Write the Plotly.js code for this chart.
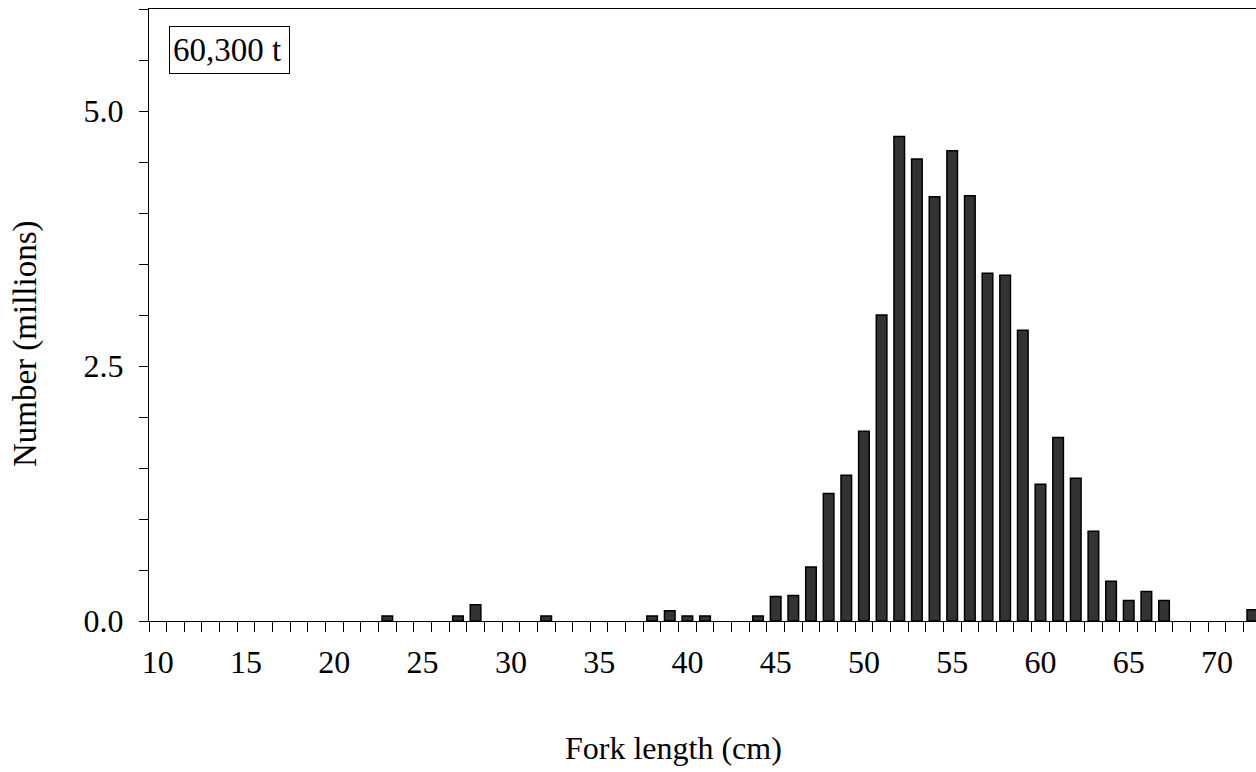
<!DOCTYPE html>
<html>
<head>
<meta charset="utf-8">
<script src="https://cdn.plot.ly/plotly-3.0.1.min.js"></script>
<style>
  html, body { margin: 0; padding: 0; background: #ffffff; }
  #chart { width: 1256px; height: 772px; }
</style>
</head>
<body>
<div id="chart"></div>
<script>
// Fork length classes (cm, lower bound of each 1-cm bin) with a non-zero catch
const lengthsCm = [23, 27, 28, 32, 38, 39, 40, 41, 44, 45, 46, 47, 48, 49, 50,
                   51, 52, 53, 54, 55, 56, 57, 58, 59, 60, 61, 62, 63, 64, 65,
                   66, 67, 72];
// Number of fish caught in each length class (millions)
const numberMillions = [0.05, 0.05, 0.16, 0.05, 0.05, 0.10, 0.05, 0.05, 0.05, 0.24,
                        0.25, 0.53, 1.25, 1.43, 1.86, 3.00, 4.75, 4.53, 4.16, 4.61,
                        4.17, 3.41, 3.39, 2.85, 1.34, 1.80, 1.40, 0.88, 0.39, 0.20,
                        0.29, 0.20, 0.11];

// Axis labels
const xLabelVals = [10, 15, 20, 25, 30, 35, 40, 45, 50, 55, 60, 65, 70];
const yLabelVals = [0, 2.5, 5];
const catchLabel = '60,300 t';

const FONT = 'Liberation Serif, Times New Roman, serif';

// Labels sit in the middle of each 1-cm bin; tick marks sit on bin edges.
const xTickPos = xLabelVals.map(v => v + 0.5);
const xTickText = xLabelVals.map(v => String(v));
const yTickText = yLabelVals.map(v => v.toFixed(1));

const trace = {
  type: 'bar',
  x: lengthsCm,
  y: numberMillions,
  width: 0.6,
  offset: 0.2,
  marker: {
    color: '#333333',
    line: { color: '#000000', width: 1.5 }
  },
  hoverinfo: 'x+y'
};

const layout = {
  width: 1256,
  height: 772,
  margin: { l: 149, r: 0, t: 9, b: 151 },
  paper_bgcolor: '#ffffff',
  plot_bgcolor: '#ffffff',
  showlegend: false,
  font: { family: FONT, size: 32, color: '#000000' },
  xaxis: {
    range: [10, 72.71],
    tickmode: 'array',
    tickvals: xTickPos,
    ticktext: xTickText,
    ticks: 'outside',
    ticklen: 10,
    tickcolor: 'rgba(0,0,0,0)',
    ticklabelstandoff: 3,
    minor: {
      tickmode: 'linear',
      tick0: 10,
      dtick: 1,
      ticks: 'outside',
      ticklen: 10,
      tickwidth: 1,
      tickcolor: '#000000'
    },
    showline: true,
    linecolor: '#000000',
    linewidth: 1,
    mirror: true,
    showgrid: false,
    zeroline: false,
    tickfont: { family: FONT, size: 32, color: '#000000' }
  },
  yaxis: {
    range: [0, 6],
    tickmode: 'array',
    tickvals: yLabelVals,
    ticktext: yTickText,
    ticks: 'outside',
    ticklen: 9,
    tickwidth: 1,
    tickcolor: '#000000',
    ticklabelstandoff: 9,
    minor: {
      tickmode: 'linear',
      tick0: 0,
      dtick: 0.5,
      ticks: 'outside',
      ticklen: 9,
      tickwidth: 1,
      tickcolor: '#000000'
    },
    showline: true,
    linecolor: '#000000',
    linewidth: 1,
    showgrid: false,
    zeroline: false,
    tickfont: { family: FONT, size: 32, color: '#000000' }
  },
  annotations: [
    {
      text: catchLabel,
      xref: 'paper', yref: 'paper',
      x: 0.0178, y: 0.972,
      xanchor: 'left', yanchor: 'top',
      width: 113,
      height: 40,
      align: 'left',
      valign: 'middle',
      showarrow: false,
      bordercolor: '#000000',
      borderwidth: 1,
      borderpad: 3,
      bgcolor: '#ffffff',
      font: { family: FONT, size: 33, color: '#000000' }
    },
    {
      text: 'Fork length (cm)',
      xref: 'paper', yref: 'paper',
      x: 0.4738, y: -0.2075,
      xanchor: 'center', yanchor: 'middle',
      showarrow: false,
      font: { family: FONT, size: 32, color: '#000000' }
    },
    {
      text: 'Number (millions)',
      xref: 'paper', yref: 'paper',
      x: -0.112, y: 0.4526,
      xanchor: 'center', yanchor: 'middle',
      textangle: -90,
      showarrow: false,
      font: { family: FONT, size: 33, color: '#000000' }
    }
  ]
};

Plotly.newPlot('chart', [trace], layout, { displayModeBar: false, staticPlot: true });
</script>
</body>
</html>
